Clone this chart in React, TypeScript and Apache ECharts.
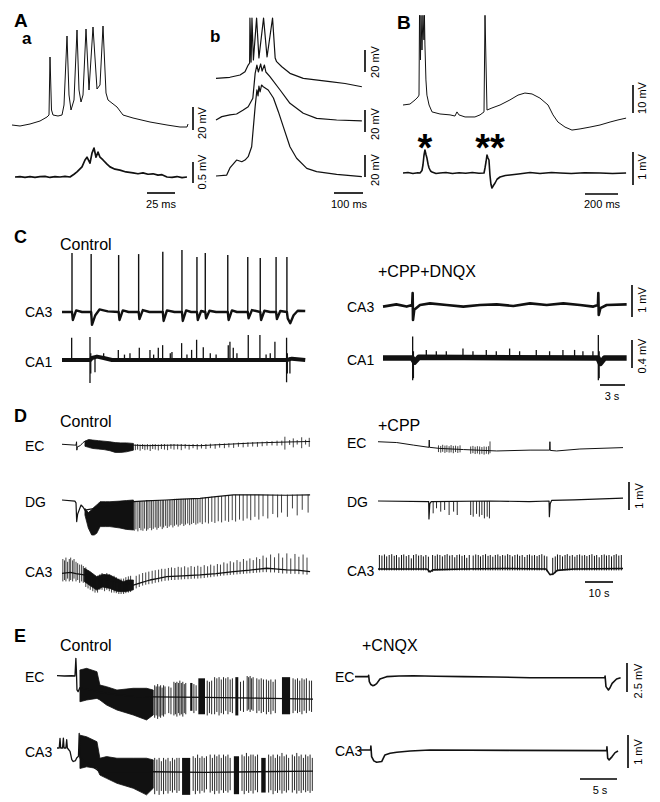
import { useEffect, useRef } from 'react';
import * as echarts from 'echarts';

type P = [number, number];
type S = [number, number, number];
type B = [number, number, number, number];

// ---------------- Panel A a (time ms, mV) ----------------
const aaTop: P[] = [[0,0],[8,-0.8],[18,0.8],[28,3.2],[35,6.4],[37,8],[38,54.4],[39.5,12],[41,8],[46,7.2],[50,8],[52,16],[55,71.2],[57,24],[59,12],[62,20],[65,76],[67,28],[69,18.4],[71,24],[74,76.8],[77,28],[81,78.4],[85,28.8],[88,32],[91,79.2],[94,25.6],[96,20],[105,14.4],[111,8],[121,5.6],[138,2.4],[155,0],[168,-1.6],[175,-1.6],[176,0.8]];
const aaBottom: P[] = [[3,0],[8,0.01],[13,-0.01],[18,0.01],[23,-0.01],[28,0.01],[33,0.015],[38,-0.01],[43,0.01],[48,0],[53,0.015],[58,0],[62,0.06],[65,0.11],[70,0.22],[73,0.37],[75,0.43],[78,0.3],[80,0.52],[82,0.63],[84,0.43],[86,0.54],[88,0.43],[91,0.37],[95,0.28],[98,0.22],[103,0.17],[108,0.15],[114,0.11],[121,0.09],[126,0.07],[131,0.09],[136,0.06],[141,0.07],[146,0.04],[150,0.05],[155,0],[160,-0.01],[165,0.01],[170,-0.015],[175,0]];

// ---------------- Panel A b (ms, mV) ----------------
const abTop: P[] = [[0,-0.3],[48,0.6],[83,2.5],[100,5.3],[111,10.8],[116,12.5],[117,50],[121,13.3],[124,50],[129,15],[140,50],[148,16.7],[164,50],[176,17.5],[195,50],[204,16.7],[209,13.6],[227,9.4],[255,3.9],[301,-0.3],[393,-3.1],[445,-4.6],[503,-7.3]];
const abMid: P[] = [[0,0],[20,2.8],[48,4.2],[71,5],[94,8.3],[111,11.1],[127,18.1],[135,38.9],[141,45.8],[146,40],[154,46.7],[159,40.8],[167,45.8],[172,40],[186,36.1],[221,25],[255,13.9],[301,5.6],[347,1.4],[416,0],[503,-0.8]];
const abBottom: P[] = [[0,0],[37,0.8],[48,6.7],[71,13.3],[89,11.9],[100,13.3],[111,16.1],[123,24.4],[135,57.8],[141,71.7],[145,66.7],[148,75],[152,70],[157,75.8],[163,74.4],[180,71.7],[198,65],[215,53.6],[232,41.1],[255,24.4],[278,14.8],[313,6.4],[347,3.6],[416,1.4],[503,-0.6]];

// ---------------- Panel B (ms, mV) ----------------
const bTop: P[] = [[0,0],[42,0.4],[73,2.2],[91,3.5],[97,4.3],[100,39],[106,19.6],[109,39],[115,23.9],[121,39],[127,28.3],[130,39],[133,26.1],[139,10.9],[145,4.3],[158,0],[176,-3],[224,-3.9],[285,-4.3],[315,-4.8],[327,-3],[339,-4.3],[376,-5.2],[436,-5.2],[467,-4.3],[491,-3],[497,39],[500,39],[509,-2.2],[539,-1.3],[588,0],[648,2.2],[697,4.3],[739,5.2],[782,4.8],[830,3],[879,0],[909,-4.3],[939,-7.4],[982,-9.6],[1024,-10.9],[1073,-10.4],[1133,-9.6],[1194,-8.7],[1255,-7.4],[1303,-6.5],[1352,-5.7]];
const bBottom: P[] = [[0,0],[30,0.02],[60,-0.02],[90,0.01],[103,0],[115,0.1],[121,0.32],[127,0.7],[133,0.92],[139,0.75],[145,0.6],[152,0.35],[158,0.2],[167,0.08],[176,0.04],[200,-0.02],[224,0],[260,0.02],[300,-0.02],[340,0.01],[380,-0.01],[420,0.02],[460,-0.01],[491,0],[497,0.2],[503,0.44],[509,0.72],[515,0.6],[521,0.52],[527,-0.08],[533,-0.45],[539,-0.6],[548,-0.5],[558,-0.4],[570,-0.25],[588,-0.16],[620,-0.1],[648,-0.08],[700,-0.04],[770,0.02],[830,-0.02],[900,0.02],[952,0],[1020,-0.02],[1100,0.01],[1194,0],[1270,-0.02],[1352,0]];

// ---------------- Panel C (s, mV) ----------------
const cCa3Ctrl: P[] = [[0,0],[1.2,0],[1.3,-0.25],[1.7,0.05],[2.4,0],[3.5,0],[3.6,-0.4],[4.0,-0.1],[4.5,0.08],[5.5,0.02],[6.8,0],[6.9,-0.25],[7.3,0.05],[8,0],[9.2,0],[9.3,-0.22],[9.7,0.06],[10.5,0],[12.1,0],[12.2,-0.28],[12.6,0.05],[13.5,0],[14.4,0],[14.5,-0.28],[14.9,0.05],[15.5,0],[16.2,0],[16.3,-0.25],[16.7,0.03],[17.2,0],[17.3,-0.2],[17.7,0.04],[18.5,0],[19.9,0],[20.0,-0.25],[20.4,0.05],[21,0],[22.3,0],[22.4,-0.2],[22.8,0.06],[23.8,0],[23.9,-0.25],[24.3,0.04],[25,0],[25.7,0],[25.8,-0.22],[26.2,0.03],[27.0,0],[27.1,-0.2],[27.4,-0.35],[27.8,-0.1],[28.3,0.04],[29.2,0.03]];
const cCa3CtrlSpikes: S[] = [[1.2,-0.05,1.84],[3.5,-0.1,1.81],[6.8,-0.05,1.78],[9.2,-0.05,1.81],[12.1,-0.05,1.88],[14.4,-0.05,1.94],[16.2,-0.05,1.72],[17.2,-0.05,1.84],[19.9,-0.05,1.78],[22.3,-0.05,1.72],[23.8,-0.05,1.69],[25.7,-0.05,1.72],[27.0,-0.1,1.72]];
const cCa1Ctrl: P[] = [[0,0],[3.4,0],[3.6,0.03],[4.2,0.05],[5,0.03],[6,0],[27.0,0],[27.6,0.02],[29.2,0]];
const cCa1CtrlSpikes: S[] = [[1.16,0,0.33],[3.36,-0.34,0.34],[3.45,-0.2,0.1],[3.96,-0.18,0.04],[5.0,0,0.1],[6.76,0,0.15],[7.5,0,0.08],[8.16,0,0.1],[9.28,0,0.18],[10.56,0,0.15],[11.0,0,0.08],[11.56,0,0.18],[12.08,0,0.22],[13.0,0,0.1],[13.2,0,0.12],[14.36,0,0.25],[15.0,0,0.08],[15.56,0,0.15],[16.16,0,0.3],[16.96,0,0.19],[17.8,0,0.1],[18.5,0,0.08],[19.96,0,0.22],[20.16,0,0.27],[20.56,0,0.18],[21.0,0,0.1],[22.36,0,0.37],[23.76,0,0.37],[24.5,0,0.08],[25.0,0,0.1],[25.56,0,0.27],[26.96,-0.33,0.33],[27.05,-0.2,0.1],[27.36,-0.2,0.04]];
const cCa3Drug: P[] = [[0,-0.05],[1.6,0.02],[2.84,-0.05],[3.5,0],[3.56,0.37],[3.6,-0.47],[3.75,-0.15],[4.44,0],[5.64,0.05],[7.64,0],[9.64,-0.05],[11.64,0],[13.65,0.02],[15.64,-0.03],[17.65,0.05],[19.65,0],[21.65,0.05],[23.65,0],[25.25,-0.05],[25.8,0],[25.85,0.37],[25.9,-0.31],[26.1,-0.1],[26.85,0],[29.25,0.02]];
const cCa1Drug: P[] = [[0,0],[3.5,0],[3.8,-0.06],[4.3,0.01],[25.8,0],[26.1,-0.08],[26.6,0],[29.25,0]];
const cCa1DrugSpikes: S[] = [[3.56,-0.33,0.32],[3.65,-0.3,0.1],[5.2,0,0.12],[6.4,0,0.1],[7.6,0,0.1],[9.6,0,0.14],[10.8,0,0.1],[12.4,0,0.12],[13.6,0,0.1],[15.2,0,0.14],[16.4,0,0.1],[18.4,0,0.12],[20.0,0,0.1],[21.6,0,0.12],[23.0,0,0.12],[24.0,0,0.1],[25.2,0,0.1],[25.85,-0.33,0.34],[25.95,-0.3,0.1]];

// ---------------- Panel D (s, mV) ----------------
const dEcCtrl: P[] = [[0,-0.01],[4.6,-0.04],[5.0,-0.04],[5.2,0.08],[5.3,-0.22],[5.5,-0.1],[6.5,-0.06],[7.5,0.05],[8.2,0.1],[25.5,-0.04],[30,-0.06],[35,-0.05],[40,-0.04],[49.3,-0.06],[55,-0.03],[61,0],[67,0.03],[73.1,0.05],[80,0.07],[88.6,0.09]];
const dEcCtrlBandT = [8.2,9.5,11,13,15,17.1,19,21,23,25.5];
const dEcCtrlBandUp = [0.1,0.16,0.14,0.12,0.1,0.08,0.05,0.04,0.04,0.02];
const dEcCtrlBandLo = [-0.08,-0.12,-0.16,-0.18,-0.2,-0.24,-0.3,-0.3,-0.28,-0.22];
const dEcCtrlSpikes: S[] = [[26.2,-0.22,-0.02],[27.0,-0.2,0],[27.9,-0.24,-0.02],[28.8,-0.18,0],[29.6,-0.22,-0.02],[30.5,-0.2,0],[31.5,-0.25,-0.02],[32.4,-0.18,0],[33.3,-0.2,0],[34.4,-0.23,-0.02],[35.5,-0.18,0],[36.6,-0.2,0],[37.7,-0.22,-0.02],[38.9,-0.17,0],[40.0,-0.2,0],[41.3,-0.19,-0.01],[42.6,-0.22,0],[44.0,-0.16,0],[45.4,-0.2,-0.02],[46.8,-0.15,0],[48.3,-0.2,0],[49.8,-0.16,0],[51.4,-0.18,0],[53.0,-0.15,0.01],[54.7,-0.17,0],[56.3,-0.13,0.02],[58.0,-0.15,0.02],[59.6,-0.12,0.03],[61.3,-0.14,0.03],[63.0,-0.1,0.05],[64.7,-0.12,0.05],[66.4,-0.1,0.06],[68.1,-0.09,0.07],[69.8,-0.1,0.07],[71.5,-0.08,0.08],[73.2,-0.06,0.1],[75.0,-0.05,0.1],[76.8,-0.06,0.12],[78.5,-0.05,0.12],[79.6,-0.2,0.26],[81.3,-0.03,0.14],[82.6,-0.12,0.2],[84.0,-0.02,0.14],[85.6,-0.15,0.24],[87.0,-0.02,0.15],[88.3,-0.1,0.22]];
const dDgCtrl: P[] = [[0,0],[4.6,-0.04],[5.0,-0.1],[5.24,-0.77],[5.6,-0.5],[6.8,-0.18],[7.5,-0.25],[8.2,-0.36],[25.5,-0.06],[30,-0.03],[37,0],[43,0.03],[49.3,0.06],[55,0.12],[61.2,0.18],[70,0.18],[80,0.17],[88.6,0.18]];
const dDgCtrlBandT = [8.2,9.4,10.6,11.5,12.4,13.6,15.5,17.1,20.7,23,25.5];
const dDgCtrlBandUp = [-0.3,-0.45,-0.35,-0.25,-0.18,-0.06,-0.06,-0.06,-0.04,-0.02,0];
const dDgCtrlBandLo = [-0.54,-1.0,-1.25,-1.25,-1.19,-0.95,-0.95,-0.95,-1.0,-1.05,-1.07];
const dDgCtrlSpikes: S[] = [[25.8,-1.1,-0.04],[26.4,-1.05,-0.04],[27.1,-1.12,-0.04],[27.7,-1.0,-0.04],[28.2,-1.08,-0.04],[28.9,-1.1,-0.04],[29.5,-1.02,-0.04],[30.2,-1.1,0],[30.7,-1.05,0],[31.4,-1.0,0],[32.0,-1.08,0],[32.6,-1.03,0],[33.3,-0.98,0],[33.9,-1.06,0],[34.4,-1.0,0],[35.1,-0.95,0],[35.8,-1.04,0],[36.3,-0.98,0],[37.0,-0.92,0],[37.6,-1.0,0],[38.3,-0.95,0],[38.9,-0.9,0],[39.6,-0.98,0],[40.2,-0.92,0.04],[40.9,-0.88,0.04],[41.5,-0.95,0.04],[42.2,-0.9,0.04],[42.8,-0.85,0.04],[43.5,-0.93,0.04],[44.1,-0.88,0.04],[44.9,-0.84,0.04],[45.6,-0.9,0.04],[46.3,-0.86,0.06],[47.0,-0.82,0.06],[47.8,-0.88,0.06],[48.5,-0.84,0.06],[49.3,-0.8,0.06],[50.1,-0.86,0.08],[51.2,-0.8,0.1],[52.3,-0.84,0.1],[53.5,-0.78,0.12],[54.6,-0.82,0.12],[55.8,-0.76,0.13],[57.0,-0.8,0.14],[58.3,-0.74,0.15],[59.5,-0.78,0.17],[60.8,-0.72,0.18],[62.0,-0.77,0.19],[63.4,-0.7,0.19],[64.7,-0.74,0.19],[66.1,-0.66,0.19],[67.4,-0.72,0.19],[68.9,-0.6,0.19],[70.3,-0.7,0.19],[71.8,-0.58,0.19],[73.5,-0.66,0.19],[75.3,-0.5,0.19],[77.0,-0.62,0.19],[78.4,-0.45,0.19],[80.5,-0.6,0.19],[82.3,-0.3,0.19],[84.0,-0.55,0.19],[85.8,-0.35,0.19],[87.9,-0.45,0.19]];
const dCa3Ctrl: P[] = [[0,-0.01],[3,0.02],[5,-0.02],[7.9,-0.07],[25.5,-0.43],[28,-0.35],[31.4,-0.25],[34,-0.2],[37.4,-0.13],[43,-0.1],[49.3,-0.07],[55,-0.02],[61.2,0.05],[67,0.1],[73.1,0.17],[76,0.15],[80.2,0.11],[84,0.1],[88.6,0.05]];
const dCa3CtrlBandT = [7.9,10,12.4,14.5,17.1,19.5,21.9,23.5,25.5];
const dCa3CtrlBandUp = [0.17,0.05,-0.13,-0.05,-0.07,-0.2,-0.31,-0.25,-0.25];
const dCa3CtrlBandLo = [-0.3,-0.45,-0.61,-0.5,-0.55,-0.65,-0.67,-0.65,-0.6];
const dCa3CtrlSpikes: S[] = [[0.3,-0.3,0.5],[0.9,-0.25,0.45],[1.4,-0.3,0.55],[2.0,-0.2,0.4],[2.6,-0.3,0.5],[3.1,-0.25,0.55],[3.8,-0.3,0.45],[4.3,-0.2,0.5],[5.0,-0.3,0.4],[5.6,-0.25,0.35],[6.3,-0.35,0.3],[7.0,-0.3,0.3],[7.6,-0.35,0.25],[8.5,-0.5,0.2],[9.3,-0.55,0.1],[10.1,-0.6,0],[11.0,-0.65,-0.05],[11.8,-0.7,-0.1],[12.7,-0.7,-0.1],[13.5,-0.6,-0.05],[14.3,-0.6,0],[15.2,-0.65,-0.05],[16.0,-0.6,0],[16.9,-0.65,-0.05],[17.7,-0.7,-0.1],[18.6,-0.7,-0.1],[19.4,-0.72,-0.15],[20.3,-0.75,-0.2],[21.1,-0.75,-0.2],[22.0,-0.75,-0.2],[22.8,-0.72,-0.15],[23.7,-0.7,-0.12],[24.5,-0.68,-0.1],[26.5,-0.55,-0.1],[27.6,-0.5,-0.05],[28.8,-0.45,0],[29.9,-0.42,0.02],[31.0,-0.4,0.05],[32.2,-0.38,0.08],[33.3,-0.35,0.1],[34.5,-0.33,0.12],[35.6,-0.3,0.15],[36.8,-0.28,0.15],[38.0,-0.27,0.18],[39.1,-0.25,0.2],[40.3,-0.25,0.18],[41.5,-0.24,0.22],[42.6,-0.23,0.2],[43.8,-0.22,0.24],[45.0,-0.22,0.2],[46.1,-0.21,0.25],[47.3,-0.2,0.22],[48.5,-0.2,0.26],[49.6,-0.19,0.22],[50.8,-0.18,0.28],[52.0,-0.16,0.24],[53.1,-0.15,0.3],[54.3,-0.13,0.26],[55.5,-0.12,0.32],[56.6,-0.1,0.3],[57.8,-0.09,0.38],[59.0,-0.08,0.34],[60.1,-0.07,0.42],[61.3,-0.06,0.38],[62.5,-0.05,0.46],[63.6,-0.04,0.4],[64.8,-0.03,0.5],[66.0,-0.02,0.44],[67.1,-0.01,0.52],[68.3,0,0.46],[69.5,0.01,0.56],[70.6,0.02,0.5],[71.8,0.03,0.62],[73.0,0.03,0.55],[74.5,0.02,0.66],[75.9,0.02,0.56],[77.4,0,0.7],[78.8,-0.02,0.55],[80.3,-0.02,0.7],[81.7,-0.03,0.52],[83.2,-0.03,0.68],[84.6,-0.04,0.58],[86.1,-0.05,0.66],[87.5,-0.06,0.55]];
const dEcDrug: P[] = [[0,0.01],[6.7,-0.02],[12.6,-0.11],[18.2,-0.19],[18.3,0.07],[18.4,-0.19],[22.1,-0.23],[30.5,-0.27],[40,-0.31],[42.4,-0.32],[54.3,-0.29],[61.3,-0.29],[61.4,0.01],[61.5,-0.3],[63.8,-0.32],[72.1,-0.25],[87.5,-0.2]];
const dEcDrugSpikes: S[] = [[21.6,-0.36,-0.12],[22.4,-0.38,-0.14],[23.1,-0.35,-0.1],[23.9,-0.39,-0.13],[24.6,-0.36,-0.12],[25.4,-0.38,-0.15],[26.1,-0.37,-0.11],[26.9,-0.4,-0.14],[27.7,-0.36,-0.13],[28.5,-0.39,-0.15],[29.3,-0.37,-0.12],[33.1,-0.42,-0.16],[33.9,-0.4,-0.14],[34.7,-0.43,-0.17],[35.5,-0.41,-0.15],[36.3,-0.44,-0.16],[37.1,-0.42,-0.18],[37.9,-0.45,-0.16],[38.7,-0.42,-0.17],[39.5,-0.44,-0.15],[40.0,-0.4,0.02]];
const dDgDrug: P[] = [[0,0],[18.1,-0.02],[18.2,-0.64],[18.5,-0.1],[19,-0.02],[40,0],[54,-0.02],[61.1,0],[61.2,-0.56],[61.5,-0.1],[62,0.02],[70,0.04],[87.5,0.1]];
const dDgDrugSpikes: S[] = [[19.7,-0.44,0],[20.9,-0.26,0],[22.4,-0.38,0],[23.8,-0.32,0],[25.4,-0.5,0],[27.0,-0.38,0],[28.3,-0.5,0],[33.1,-0.5,0],[34.0,-0.56,0],[35.2,-0.46,0],[36.2,-0.56,0],[37.1,-0.5,0],[38.0,-0.62,0],[39.0,-0.56,0],[39.8,-0.62,0]];
const dCa3Drug: P[] = [[0,0],[17.5,0],[18.6,-0.1],[19.5,-0.03],[30,0],[45,0.02],[60,0],[61.4,-0.2],[62.5,-0.18],[64,-0.05],[70,0],[87.5,0.02]];
const dCa3DrugSpikes: S[] = [[0.5,-0.05,0.5],[1.4,-0.05,0.48],[2.3,-0.05,0.52],[3.1,-0.05,0.45],[4.0,-0.05,0.5],[4.9,-0.05,0.53],[5.8,-0.05,0.47],[6.6,-0.05,0.5],[7.5,-0.05,0.42],[8.4,-0.05,0.5],[9.2,-0.05,0.52],[10.1,-0.05,0.46],[11.0,-0.05,0.5],[11.9,-0.05,0.38],[12.7,-0.05,0.5],[13.6,-0.05,0.53],[14.5,-0.05,0.48],[15.4,-0.05,0.5],[16.2,-0.05,0.45],[17.1,-0.05,0.5],[18.0,-0.12,0.44],[19.5,-0.1,0.5],[20.4,-0.05,0.47],[21.2,-0.05,0.52],[22.1,-0.05,0.5],[23.0,-0.05,0.45],[23.9,-0.05,0.5],[24.7,-0.05,0.53],[25.6,-0.05,0.48],[26.5,-0.05,0.5],[27.4,-0.05,0.42],[28.2,-0.05,0.5],[29.1,-0.05,0.52],[30.0,-0.05,0.47],[30.9,-0.05,0.5],[31.7,-0.05,0.4],[32.6,-0.05,0.5],[34.0,-0.05,0.48],[34.9,-0.05,0.52],[35.8,-0.05,0.5],[36.6,-0.05,0.45],[37.5,-0.05,0.5],[38.4,-0.05,0.53],[39.3,-0.05,0.47],[40.1,-0.05,0.5],[41.0,-0.05,0.44],[41.9,-0.05,0.5],[42.8,-0.05,0.52],[43.6,-0.05,0.46],[44.5,-0.05,0.5],[45.4,-0.05,0.48],[46.3,-0.05,0.53],[47.1,-0.05,0.5],[48.0,-0.05,0.45],[48.9,-0.05,0.5],[49.8,-0.05,0.52],[50.6,-0.05,0.47],[51.5,-0.05,0.5],[52.4,-0.05,0.43],[53.3,-0.05,0.5],[54.1,-0.05,0.52],[55.0,-0.05,0.48],[55.9,-0.05,0.5],[56.8,-0.05,0.46],[57.6,-0.05,0.5],[58.5,-0.05,0.53],[59.4,-0.05,0.48],[60.3,-0.08,0.45],[62.4,-0.22,0.4],[63.3,-0.15,0.45],[64.1,-0.08,0.52],[65.0,-0.05,0.5],[65.9,-0.05,0.45],[66.8,-0.05,0.5],[67.6,-0.05,0.53],[68.5,-0.05,0.47],[69.4,-0.05,0.5],[70.3,-0.05,0.44],[71.1,-0.05,0.5],[72.0,-0.05,0.52],[72.9,-0.05,0.48],[73.8,-0.05,0.5],[74.6,-0.05,0.46],[75.5,-0.05,0.5],[76.4,-0.05,0.53],[77.3,-0.05,0.47],[78.1,-0.05,0.5],[79.0,-0.05,0.42],[79.9,-0.05,0.5],[80.8,-0.05,0.52],[81.6,-0.05,0.48],[82.5,-0.05,0.5],[83.4,-0.05,0.45],[84.3,-0.05,0.5],[85.1,-0.05,0.53],[86.0,-0.05,0.48],[86.9,-0.05,0.5]];

// ---------------- Panel E (s, mV) ----------------
const eEcCtrl: P[] = [[0,0.03],[1,0],[2,0.02],[2.43,0],[2.55,1.52],[2.62,0.5],[2.7,-1.2],[2.85,-1.35],[3.1,-1.0],[5.8,-1.4],[8,-1.6],[10.3,-1.75],[13,-1.8],[20,-1.85],[27,-1.9],[34.6,-2.0]];
const eEcCtrlBandT = [3.1,4.0,5.4,5.8,6.7,8.1,10.3,12.1,13.0];
const eEcCtrlBandUp = [0.52,0.66,0.37,-0.78,-0.92,-1.21,-1.06,-1.06,-1.21];
const eEcCtrlBandLo = [-2.22,-2.07,-1.93,-2.07,-2.5,-2.93,-3.36,-3.79,-3.36];
const eEcCtrlBlocks: B[] = [[18.0,18.3,-3.0,-0.6],[19.1,20.0,-3.3,-0.2],[24.1,24.5,-3.4,-0.1],[30.4,31.5,-3.3,-0.1]];
const eEcCtrlSpikes: S[] = [[13.2,-3.6,-0.8],[13.4,-3.4,-0.9],[13.6,-3.7,-0.7],[13.8,-3.5,-0.9],[14.0,-3.6,-0.8],[14.2,-3.4,-1.0],[14.4,-3.5,-0.8],[14.6,-3.3,-0.9],[15.1,-3.2,-0.9],[15.4,-3.3,-1.0],[15.8,-3.4,-0.5],[16.0,-3.3,-0.6],[16.2,-3.5,-0.5],[16.4,-3.2,-0.6],[16.6,-3.4,-0.4],[16.8,-3.3,-0.6],[17.0,-3.5,-0.5],[17.2,-3.2,-0.7],[17.4,-3.3,-0.6],[18.5,-3.2,-0.7],[18.8,-3.0,-0.8],[20.3,-3.4,-0.4],[20.6,-3.2,-0.5],[20.9,-3.3,-0.4],[21.3,-3.3,-0.1],[21.6,-3.1,-0.2],[21.9,-3.4,-0.1],[22.2,-3.2,-0.3],[22.5,-3.3,-0.1],[22.8,-3.0,-0.2],[23.1,-3.3,-0.1],[23.4,-3.1,-0.3],[23.7,-3.2,-0.2],[24.8,-3.0,-0.5],[25.2,-3.1,-0.4],[25.7,-3.0,0],[25.9,-2.9,-0.1],[26.1,-3.1,0],[26.3,-2.9,-0.2],[26.5,-3.0,-0.1],[27.0,-3.2,-0.2],[27.3,-3.0,-0.3],[27.6,-3.2,-0.2],[27.9,-3.1,-0.3],[28.3,-3.3,-0.3],[28.6,-3.1,-0.4],[28.9,-3.3,-0.3],[29.2,-3.0,-0.5],[29.5,-3.2,-0.3],[31.9,-3.2,-0.2],[32.2,-3.0,-0.3],[32.5,-3.2,-0.2],[32.8,-3.1,-0.4],[33.1,-3.3,-0.2],[33.4,-3.0,-0.3],[33.7,-3.2,-0.2],[34.1,-3.0,-0.4],[34.4,-3.1,-0.4]];
const eCa3Ctrl: P[] = [[0,0],[0.3,0],[0.41,0.29],[0.5,0],[0.75,0],[0.86,0.3],[0.95,0],[1.2,0],[1.31,0.25],[1.4,0],[1.76,-0.1],[2.0,-0.35],[2.2,-0.41],[2.5,-0.38],[2.66,-0.3],[2.9,-0.25],[3.0,0.44],[3.1,-0.3],[5.8,-0.72],[13,-0.72],[20,-0.74],[27,-0.72],[34.6,-0.7]];
const eCa3CtrlBandT = [3.1,4.0,5.4,5.8,6.7,8.1,10.3,12.1,13.0];
const eCa3CtrlBandUp = [0.39,0.34,0.19,-0.31,-0.26,-0.31,-0.31,-0.31,-0.36];
const eCa3CtrlBandLo = [-0.62,-0.57,-0.62,-0.82,-0.92,-1.07,-1.22,-1.42,-1.22];
const eCa3CtrlBlocks: B[] = [[16.9,18.0,-1.42,-0.3],[23.9,24.6,-1.4,-0.25],[27.6,28.2,-1.35,-0.3]];
const eCa3CtrlSpikes: S[] = [[13.2,-1.4,-0.3],[13.5,-1.3,-0.35],[13.8,-1.42,-0.3],[14.1,-1.3,-0.4],[14.4,-1.4,-0.3],[14.7,-1.3,-0.35],[15.0,-1.38,-0.3],[15.3,-1.3,-0.4],[15.6,-1.35,-0.3],[15.9,-1.28,-0.35],[16.2,-1.36,-0.3],[16.5,-1.3,-0.3],[18.4,-1.3,-0.25],[18.7,-1.4,-0.3],[19.0,-1.3,-0.2],[19.3,-1.38,-0.3],[19.6,-1.3,-0.25],[19.9,-1.35,-0.3],[20.2,-1.25,-0.25],[20.7,-1.35,-0.2],[21.0,-1.3,-0.3],[21.3,-1.4,-0.2],[21.6,-1.3,-0.25],[21.9,-1.38,-0.2],[22.2,-1.28,-0.3],[22.5,-1.36,-0.2],[22.8,-1.3,-0.25],[23.1,-1.35,-0.2],[23.4,-1.28,-0.3],[25.0,-1.3,-0.2],[25.3,-1.4,-0.25],[25.6,-1.3,-0.15],[25.9,-1.36,-0.25],[26.2,-1.3,-0.2],[26.5,-1.38,-0.2],[26.8,-1.28,-0.25],[27.1,-1.34,-0.2],[28.6,-1.35,-0.2],[28.9,-1.28,-0.25],[29.2,-1.4,-0.2],[29.5,-1.3,-0.3],[29.8,-1.36,-0.2],[30.1,-1.28,-0.25],[30.4,-1.38,-0.15],[30.7,-1.3,-0.25],[31.0,-1.35,-0.2],[31.3,-1.28,-0.3],[31.8,-1.35,-0.2],[32.1,-1.28,-0.25],[32.4,-1.38,-0.15],[32.7,-1.3,-0.25],[33.0,-1.36,-0.2],[33.3,-1.28,-0.3],[33.6,-1.34,-0.2],[33.9,-1.3,-0.25],[34.2,-1.36,-0.2],[34.5,-1.3,-0.3]];
const eEcDrug: P[] = [[-0.95,0.03],[0.86,0.03],[0.9,0.15],[0.99,-0.4],[1.2,-0.65],[1.44,-0.75],[1.7,-0.7],[1.98,-0.57],[2.43,-0.17],[3.33,0.03],[5,0.08],[6.94,0.11],[10,0.06],[13.7,0.03],[18,0],[22.7,-0.06],[28,-0.06],[32.8,-0.06],[32.85,0.08],[32.97,-0.83],[33.3,-1.12],[33.5,-0.95],[33.8,-0.55],[34.4,-0.17],[34.95,-0.06]];
const eCa3Drug: P[] = [[-0.4,0],[1.17,0],[1.2,0.12],[1.3,-0.2],[1.6,-0.33],[1.98,-0.37],[2.66,-0.35],[3.1,-0.15],[3.8,-0.1],[4.69,-0.07],[6.5,-0.03],[9.19,0],[20,-0.01],[33.07,-0.02],[33.1,0.1],[33.2,-0.25],[33.4,-0.3],[33.8,-0.2],[34.2,-0.08],[34.6,-0.03]];

// ---------------- layout of each trace (pixel origin & scale) ----------------
type L = { x0: number; y0: number; px: number; py: number; t: [number, number]; v: [number, number] };
const layout: L[] = [
  { x0: 12, y0: 125, px: 1, py: 1.25, t: [0, 177], v: [-6, 82] },
  { x0: 12, y0: 177, px: 1, py: 46, t: [0, 177], v: [-0.2, 0.7] },
  { x0: 216, y0: 78, px: 0.29, py: 1.2, t: [0, 505], v: [-10, 52] },
  { x0: 216, y0: 120, px: 0.29, py: 1.2, t: [0, 505], v: [-5, 50] },
  { x0: 216, y0: 176, px: 0.29, py: 1.2, t: [0, 505], v: [-5, 80] },
  { x0: 403, y0: 105, px: 0.165, py: 2.3, t: [0, 1360], v: [-12, 40] },
  { x0: 403, y0: 173, px: 0.165, py: 25, t: [0, 1360], v: [-0.7, 1] },
  { x0: 62, y0: 312, px: 8.33, py: 32, t: [0, 29.5], v: [-0.6, 2.1] },
  { x0: 62, y0: 360, px: 8.33, py: 67.5, t: [0, 29.5], v: [-0.5, 0.5] },
  { x0: 383, y0: 305, px: 8.33, py: 32, t: [0, 29.5], v: [-0.6, 0.5] },
  { x0: 383, y0: 358, px: 8.33, py: 67.5, t: [0, 29.5], v: [-0.5, 0.5] },
  { x0: 62, y0: 444, px: 2.8, py: 28, t: [0, 89], v: [-0.5, 0.5] },
  { x0: 62, y0: 500, px: 2.8, py: 28, t: [0, 89], v: [-1.4, 0.4] },
  { x0: 62, y0: 573, px: 2.8, py: 28, t: [0, 89], v: [-0.9, 0.9] },
  { x0: 378, y0: 442, px: 2.8, py: 28, t: [0, 88], v: [-0.5, 0.5] },
  { x0: 378, y0: 501, px: 2.8, py: 28, t: [0, 88], v: [-0.8, 0.3] },
  { x0: 378, y0: 569, px: 2.8, py: 28, t: [0, 88], v: [-0.4, 0.7] },
  { x0: 57, y0: 676, px: 7.4, py: 11.6, t: [0, 35], v: [-4.2, 1.8] },
  { x0: 57, y0: 748, px: 7.4, py: 33, t: [0, 35], v: [-1.6, 0.6] },
  { x0: 362, y0: 677, px: 7.4, py: 11.6, t: [-1, 35.5], v: [-1.5, 0.5] },
  { x0: 362, y0: 750, px: 7.4, py: 33, t: [-1, 35.5], v: [-0.6, 0.3] },
];

const FONT = '"Liberation Sans", Arial, Helvetica, sans-serif';
const INK = '#111';

function line(i: number, data: P[], w: number, color = INK) {
  return { type: 'line', xAxisIndex: i, yAxisIndex: i, data, symbol: 'none', showSymbol: false, silent: true, clip: false, lineStyle: { color, width: w, join: 'round' } };
}
function spikes(i: number, data: S[], w: number, color = INK) {
  return {
    type: 'custom', xAxisIndex: i, yAxisIndex: i, data, silent: true, encode: { x: 0, y: [1, 2] },
    renderItem: (_p: any, api: any) => {
      const a = api.coord([api.value(0), api.value(1)]);
      const b = api.coord([api.value(0), api.value(2)]);
      return { type: 'line', shape: { x1: a[0], y1: a[1], x2: b[0], y2: b[1] }, style: { stroke: color, lineWidth: w } };
    },
  };
}
function band(i: number, t: number[], up: number[], lo: number[], color = INK) {
  return {
    type: 'custom', xAxisIndex: i, yAxisIndex: i, data: [[t[0], up[0]]], silent: true,
    renderItem: (_p: any, api: any) => {
      const pts: number[][] = [];
      for (let k = 0; k < t.length; k++) pts.push(api.coord([t[k], up[k]]));
      for (let k = t.length - 1; k >= 0; k--) pts.push(api.coord([t[k], lo[k]]));
      return { type: 'polygon', shape: { points: pts }, style: { fill: color, stroke: color, lineWidth: 0.8 } };
    },
  };
}
function blocks(i: number, data: B[], color = INK) {
  return {
    type: 'custom', xAxisIndex: i, yAxisIndex: i, data, silent: true, encode: { x: [0, 1], y: [2, 3] },
    renderItem: (_p: any, api: any) => {
      const a = api.coord([api.value(0), api.value(3)]);
      const b = api.coord([api.value(1), api.value(2)]);
      return { type: 'rect', shape: { x: a[0], y: a[1], width: b[0] - a[0], height: b[1] - a[1] }, style: { fill: color } };
    },
  };
}

function txt(text: string, x: number, y: number, size: number, opts: any = {}) {
  return {
    type: 'text', x, y, rotation: opts.rot || 0, silent: true,
    style: {
      text, fill: '#000', fontSize: size, fontFamily: FONT, fontWeight: opts.bold ? 'bold' : 'normal',
      textAlign: opts.align || 'left', textVerticalAlign: 'middle',
    },
  };
}
function vbar(x: number, y1: number, y2: number) {
  return { type: 'line', silent: true, shape: { x1: x, y1, x2: x, y2 }, style: { stroke: '#000', lineWidth: 1.6 } };
}
function hbar(x1: number, x2: number, y: number) {
  return { type: 'line', silent: true, shape: { x1, y1: y, x2, y2: y }, style: { stroke: '#000', lineWidth: 1.6 } };
}

function buildOption() {
  const grid = layout.map((l) => ({
    left: l.x0 + l.t[0] * l.px,
    top: l.y0 - l.v[1] * l.py,
    width: (l.t[1] - l.t[0]) * l.px,
    height: (l.v[1] - l.v[0]) * l.py,
    containLabel: false,
    show: false,
  }));
  const xAxis = layout.map((l, i) => ({ type: 'value', gridIndex: i, min: l.t[0], max: l.t[1], show: false }));
  const yAxis = layout.map((l, i) => ({ type: 'value', gridIndex: i, min: l.v[0], max: l.v[1], show: false }));

  const series: any[] = [
    line(0, aaTop, 1),
    line(1, aaBottom, 1.7),
    line(2, abTop, 1.2),
    line(3, abMid, 1.2),
    line(4, abBottom, 1.2),
    line(5, bTop, 1),
    line(6, bBottom, 1.6),
    line(7, cCa3Ctrl, 2.4), spikes(7, cCa3CtrlSpikes, 1.4),
    line(8, cCa1Ctrl, 4), spikes(8, cCa1CtrlSpikes, 1.3),
    line(9, cCa3Drug, 2.6),
    line(10, cCa1Drug, 5.5), spikes(10, cCa1DrugSpikes, 1.3),
    line(11, dEcCtrl, 1), band(11, dEcCtrlBandT, dEcCtrlBandUp, dEcCtrlBandLo), spikes(11, dEcCtrlSpikes, 0.8),
    line(12, dDgCtrl, 1.2), band(12, dDgCtrlBandT, dDgCtrlBandUp, dDgCtrlBandLo), spikes(12, dDgCtrlSpikes, 0.8),
    line(13, dCa3Ctrl, 1.3), band(13, dCa3CtrlBandT, dCa3CtrlBandUp, dCa3CtrlBandLo), spikes(13, dCa3CtrlSpikes, 0.8),
    line(14, dEcDrug, 1), spikes(14, dEcDrugSpikes, 0.8),
    line(15, dDgDrug, 1.2), spikes(15, dDgDrugSpikes, 0.9),
    line(16, dCa3Drug, 1.6), spikes(16, dCa3DrugSpikes, 1),
    line(17, eEcCtrl, 1.3), band(17, eEcCtrlBandT, eEcCtrlBandUp, eEcCtrlBandLo), blocks(17, eEcCtrlBlocks), spikes(17, eEcCtrlSpikes, 0.9),
    line(18, eCa3Ctrl, 1.3), band(18, eCa3CtrlBandT, eCa3CtrlBandUp, eCa3CtrlBandLo), blocks(18, eCa3CtrlBlocks), spikes(18, eCa3CtrlSpikes, 0.9),
    line(19, eEcDrug, 1.6),
    line(20, eCa3Drug, 1.6),
  ];

  const R = Math.PI / 2;
  const graphic: any[] = [
    txt('A', 14, 20, 19, { bold: true }),
    txt('a', 22, 38, 17, { bold: true }),
    txt('b', 210, 36, 17, { bold: true }),
    txt('B', 397, 22, 19, { bold: true }),
    txt('C', 14, 237, 18, { bold: true }),
    txt('D', 14, 416, 18, { bold: true }),
    txt('E', 14, 636, 18, { bold: true }),
    txt('Control', 60, 244, 16),
    txt('+CPP+DNQX', 378, 271, 16),
    txt('Control', 60, 421, 16),
    txt('+CPP', 378, 425, 16),
    txt('Control', 60, 645, 16),
    txt('+CNQX', 362, 645, 16),
    txt('CA3', 25, 312, 14), txt('CA1', 25, 362, 14),
    txt('CA3', 347, 307, 14), txt('CA1', 347, 360, 14),
    txt('EC', 25, 446, 14), txt('DG', 25, 502, 14), txt('CA3', 25, 572, 14),
    txt('EC', 347, 443, 14), txt('DG', 347, 502, 14), txt('CA3', 347, 571, 14),
    txt('EC', 25, 677, 14), txt('CA3', 25, 752, 14),
    txt('EC', 335, 677, 14), txt('CA3', 335, 751, 14),
    txt('*', 425, 148, 38, { bold: true, align: 'center' }),
    txt('**', 490, 148, 38, { bold: true, align: 'center' }),
    vbar(193, 107, 130), txt('20 mV', 202, 123, 11, { rot: R, align: 'center' }),
    vbar(193, 162, 183), txt('0.5 mV', 202, 172, 11, { rot: R, align: 'center' }),
    hbar(147, 175, 193), txt('25 ms', 161, 204, 11, { align: 'center' }),
    vbar(365, 50, 72), txt('20 mV', 375, 62, 11, { rot: R, align: 'center' }),
    vbar(365, 110, 132), txt('20 mV', 375, 124, 11, { rot: R, align: 'center' }),
    vbar(365, 155, 177), txt('20 mV', 375, 170, 11, { rot: R, align: 'center' }),
    hbar(334, 363, 193), txt('100 ms', 349, 204, 11, { align: 'center' }),
    vbar(633, 85, 113), txt('10 mV', 642, 98, 11, { rot: R, align: 'center' }),
    vbar(633, 152, 185), txt('1 mV', 642, 167, 11, { rot: R, align: 'center' }),
    hbar(585, 618, 194), txt('200 ms', 602, 204, 11, { align: 'center' }),
    vbar(632, 285, 317), txt('1 mV', 642, 300, 11, { rot: R, align: 'center' }),
    vbar(632, 340, 368), txt('0.4 mV', 642, 356, 11, { rot: R, align: 'center' }),
    hbar(600, 625, 385), txt('3 s', 612, 396, 11, { align: 'center' }),
    vbar(629, 482, 510), txt('1 mV', 639, 496, 11, { rot: R, align: 'center' }),
    hbar(585, 613, 582), txt('10 s', 599, 593, 11, { align: 'center' }),
    vbar(627, 663, 692), txt('2.5 mV', 638, 681, 11, { rot: R, align: 'center' }),
    vbar(628, 735, 768), txt('1 mV', 638, 752, 11, { rot: R, align: 'center' }),
    hbar(580, 617, 779), txt('5 s', 600, 790, 11, { align: 'center' }),
  ];

  return { animation: false, backgroundColor: '#fff', grid, xAxis, yAxis, series, graphic };
}

export default function App() {
  const ref = useRef<HTMLDivElement>(null);
  useEffect(() => {
    document.body.style.margin = '0';
    const chart = echarts.init(ref.current as HTMLDivElement, null, { renderer: 'svg' });
    chart.setOption(buildOption() as any);
    return () => chart.dispose();
  }, []);
  return <div ref={ref} style={{ position: 'absolute', left: 0, top: 0, width: 660, height: 802, background: '#fff' }} />;
}
